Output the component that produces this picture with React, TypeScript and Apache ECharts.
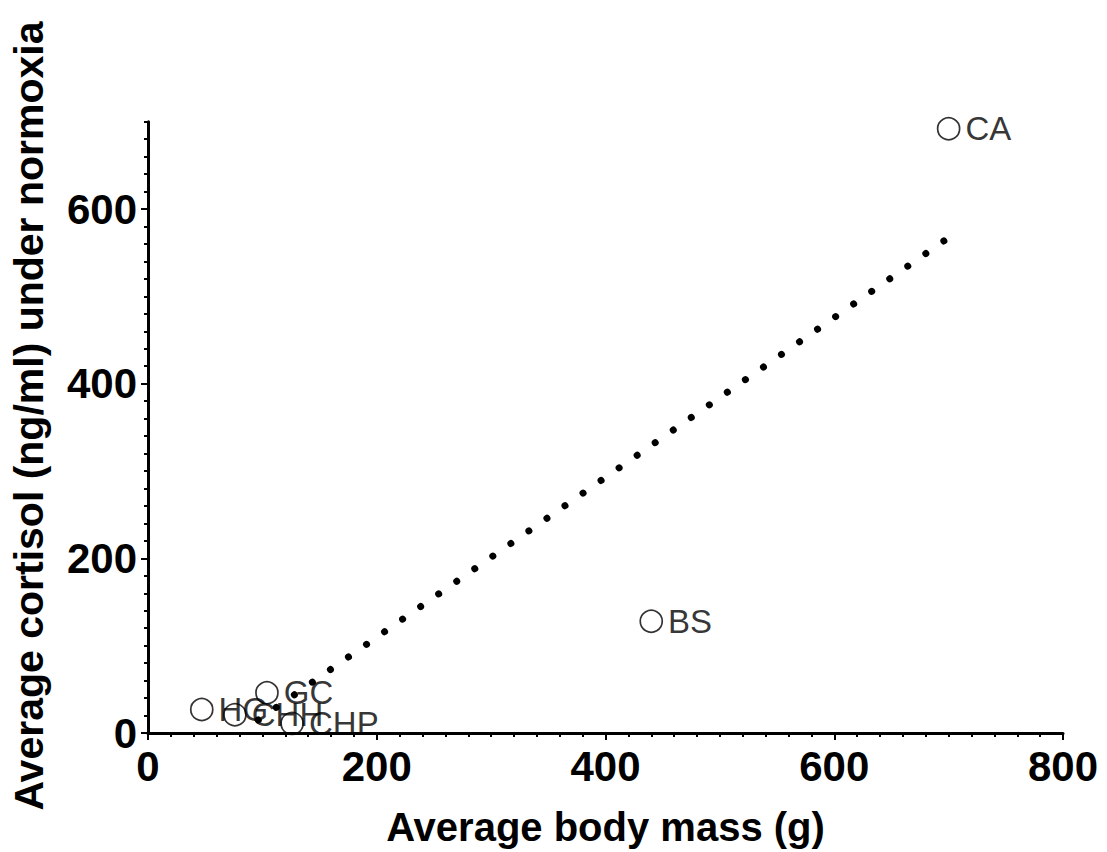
import React, { useEffect, useRef } from "react";
import * as echarts from "echarts";

const speciesLabels = ["HG", "CHH", "GC", "CHP", "BS", "CA"];
const bodyMass = [47, 76, 104, 126, 440, 700];
const cortisol = [27, 21, 46, 11, 128, 692];

const trendMass = [96.4, 699.5];
const trendCortisol = [14.9, 566.8];

const xTickValues = [0, 200, 400, 600, 800];
const yTickValues = [0, 200, 400, 600];
const yMinorStep = 20;
const yMax = 700;

const FONT = "'Liberation Sans', Arial, sans-serif";

export default function App() {
  const ref = useRef<HTMLDivElement>(null);
  useEffect(() => {
    if (!ref.current) return;
    const chart = echarts.init(ref.current, null, { renderer: "svg" });
    const yMinorValues: number[] = [];
    for (let v = 0; v <= yMax; v += yMinorStep) yMinorValues.push(v);

    const scatterData = bodyMass.map((m, i) => ({
      value: [m, cortisol[i]],
      name: speciesLabels[i],
    }));
    const trendData = trendMass.map((m, i) => [m, trendCortisol[i]]);

    const yBase = {
      type: "value",
      min: 0,
      max: yMax,
      position: "left",
      splitLine: { show: false },
    };

    chart.setOption({
      animation: false,
      backgroundColor: "#fff",
      grid: { left: 148, right: 44, top: 121.7, bottom: 119, containLabel: false },
      xAxis: {
        type: "value",
        min: 0,
        max: 800,
        interval: 200,
        axisLine: { show: true, onZero: false, lineStyle: { color: "#000", width: 3 } },
        axisTick: { show: true, inside: false, length: 7, lineStyle: { color: "#000", width: 2 } },
        minorTick: { show: true, splitNumber: 10, length: 4, lineStyle: { color: "#000", width: 2 } },
        axisLabel: {
          show: true,
          color: "#000",
          fontSize: 42,
          fontWeight: "bold",
          fontFamily: FONT,
          margin: 12,
          customValues: xTickValues,
        },
        splitLine: { show: false },
        minorSplitLine: { show: false },
      },
      yAxis: [
        {
          ...yBase,
          axisLine: { show: true, onZero: false, lineStyle: { color: "#000", width: 3 } },
          axisTick: {
            show: true,
            length: 4,
            customValues: yMinorValues,
            lineStyle: { color: "#000", width: 2 },
          },
          axisLabel: {
            show: true,
            color: "#000",
            fontSize: 42,
            fontWeight: "bold",
            fontFamily: FONT,
            margin: 11,
            customValues: yTickValues,
          },
        },
        {
          ...yBase,
          axisLine: { show: false },
          axisTick: {
            show: true,
            length: 7,
            customValues: yTickValues,
            lineStyle: { color: "#000", width: 2 },
          },
          axisLabel: { show: false },
        },
      ],
      graphic: [
        {
          type: "text",
          x: 605.5,
          y: 827,
          style: {
            text: "Average body mass (g)",
            fontSize: 40,
            fontWeight: "bold",
            fontFamily: FONT,
            fill: "#000",
            align: "center",
            verticalAlign: "middle",
          },
        },
        {
          type: "text",
          x: 29,
          y: 416,
          rotation: Math.PI / 2,
          style: {
            text: "Average cortisol (ng/ml) under normoxia",
            fontSize: 41,
            fontWeight: "bold",
            fontFamily: FONT,
            fill: "#000",
            align: "center",
            verticalAlign: "middle",
          },
        },
      ],
      series: [
        {
          type: "line",
          data: trendData,
          symbol: "none",
          silent: true,
          lineStyle: { color: "#000", width: 7, type: [0.01, 22.0], cap: "round" },
          z: 1,
        },
        {
          type: "scatter",
          data: scatterData,
          symbol: "circle",
          symbolSize: 22,
          itemStyle: { color: "rgba(0,0,0,0)", borderColor: "#000", borderWidth: 1.7 },
          label: {
            show: true,
            position: "right",
            distance: 5,
            formatter: (p: any) => p.name,
            color: "#000",
            fontWeight: "normal",
            fontSize: 33,
            fontFamily: FONT,
          },
          z: 2,
        },
      ],
    });
    return () => chart.dispose();
  }, []);
  return (
    <div
      ref={ref}
      style={{ position: "absolute", left: 0, top: 0, width: 1107, height: 852 }}
    />
  );
}
